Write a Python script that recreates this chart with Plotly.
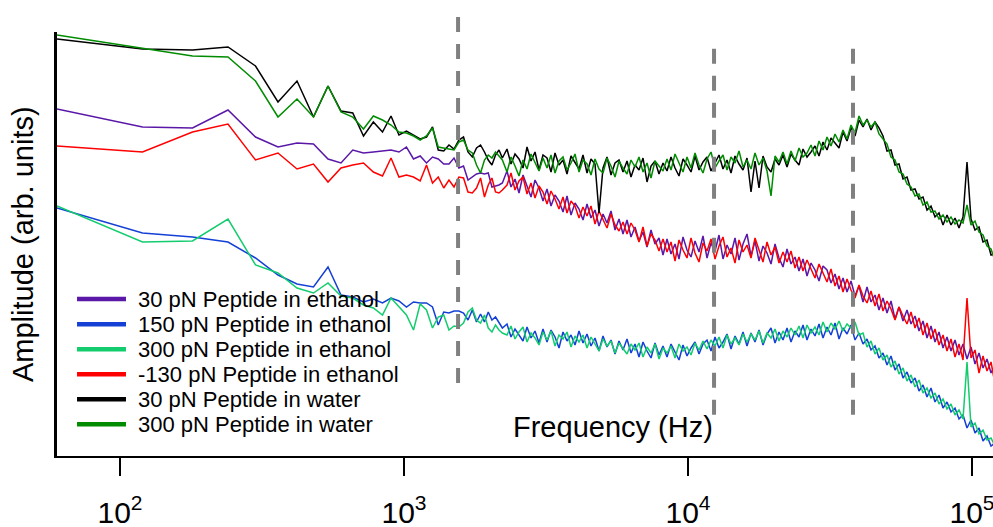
import numpy as np
import plotly.graph_objects as go

# ---------------------------------------------------------------- data
# Low-frequency FFT bins (60 Hz spacing), resolved point by point
FREQ_LO = [60, 120, 180, 240, 300, 360, 420, 480, 540, 600, 660, 720, 780, 840,
           900, 960, 1020, 1080, 1140, 1200, 1260, 1320, 1380, 1440, 1500, 1560,
           1620, 1680, 1740, 1800, 1860, 1920, 1980, 2040, 2100, 2160, 2220]
# Higher band sampled on a logarithmic grid
FREQ_HI = np.geomspace(2305, 120500, 123)

ETH30_LO = [3.47, 3.29, 3.28, 3.46, 3.19, 3.09, 3.13, 3.12, 2.97, 2.93, 3.06, 3.03, 3.04,
            3.05, 3.06, 3.04, 3.09, 2.97, 3.00, 2.93, 2.99, 2.97, 2.92, 2.92, 2.98, 2.88,
            2.90, 2.76, 2.79, 2.82, 2.83, 2.82, 2.83, 2.69, 2.70, 2.71, 2.73]
ETH30_HI = [2.85, 2.69, 2.77, 2.63, 2.81, 2.70, 2.59, 2.76, 2.68, 2.55,
            2.67, 2.50, 2.61, 2.55, 2.44, 2.60, 2.41, 2.53, 2.47, 2.36,
            2.52, 2.38, 2.46, 2.30, 2.42, 2.33, 2.45, 2.26, 2.37, 2.22,
            2.36, 2.19, 2.29, 2.15, 2.24, 2.09, 2.26, 2.12, 2.18, 2.01,
            2.17, 2.02, 2.12, 1.97, 2.19, 2.06, 1.99, 2.15, 2.04, 2.20,
            1.98, 2.13, 2.05, 2.21, 1.97, 2.11, 2.02, 2.18, 1.96, 2.12,
            2.22, 2.00, 2.15, 1.95, 2.10, 2.03, 1.92, 2.12, 1.98, 1.89,
            2.07, 1.92, 1.99, 1.85, 1.97, 1.80, 1.93, 1.86, 1.75, 1.90,
            1.86, 1.73, 1.82, 1.67, 1.78, 1.64, 1.75, 1.60, 1.70, 1.54,
            1.69, 1.54, 1.61, 1.46, 1.58, 1.43, 1.55, 1.37, 1.49, 1.35,
            1.46, 1.32, 1.40, 1.25, 1.35, 1.18, 1.30, 1.14, 1.24, 1.08,
            1.19, 1.05, 1.16, 1.01, 1.12, 0.97, 1.09, 0.92, 1.03, 0.88,
            0.97, 0.83, 0.91]

ETH150_LO = [2.48, 2.23, 2.19, 2.14, 1.98, 1.81, 1.72, 1.69, 1.89, 1.61, 1.59, 1.54, 1.57,
             1.53, 1.58, 1.55, 1.49, 1.54, 1.53, 1.53, 1.49, 1.31, 1.44, 1.43, 1.45, 1.45,
             1.43, 1.36, 1.46, 1.34, 1.42, 1.34, 1.44, 1.36, 1.39, 1.33, 1.28]
ETH150_HI = [1.32, 1.19, 1.27, 1.21, 1.15, 1.29, 1.18, 1.25, 1.13, 1.27,
             1.14, 1.26, 1.19, 1.08, 1.24, 1.15, 1.21, 1.11, 1.25, 1.13,
             1.22, 1.10, 1.18, 1.05, 1.20, 1.09, 1.16, 1.02, 1.15, 1.06,
             1.17, 1.03, 1.12, 0.99, 1.14, 1.05, 0.98, 1.13, 1.01, 1.10,
             0.99, 1.12, 1.04, 0.96, 1.11, 1.00, 1.08, 1.14, 1.02, 1.12,
             1.16, 1.05, 1.19, 1.08, 1.14, 1.22, 1.07, 1.20, 1.12, 1.24,
             1.10, 1.23, 1.14, 1.26, 1.11, 1.22, 1.28, 1.13, 1.24, 1.16,
             1.28, 1.14, 1.25, 1.19, 1.31, 1.16, 1.27, 1.20, 1.32, 1.18,
             1.29, 1.21, 1.33, 1.17, 1.28, 1.22, 1.31, 1.16, 1.23, 1.12,
             1.17, 1.06, 1.10, 0.98, 1.03, 0.91, 1.00, 0.86, 0.92, 0.78,
             0.84, 0.73, 0.78, 0.65, 0.71, 0.59, 0.68, 0.54, 0.61, 0.48,
             0.54, 0.44, 0.48, 0.37, 0.41, 0.28, 0.36, 0.23, 0.28, 0.15,
             0.20, 0.10, 0.13]

ETH300_LO = [2.50, 2.14, 2.15, 2.37, 1.91, 1.83, 1.68, 1.63, 1.73, 1.60, 1.58, 1.51, 1.48,
             1.41, 1.58, 1.49, 1.41, 1.26, 1.52, 1.46, 1.28, 1.39, 1.41, 1.26, 1.30, 1.29,
             1.33, 1.44, 1.48, 1.36, 1.33, 1.41, 1.28, 1.24, 1.31, 1.26, 1.23]
ETH300_HI = [1.21, 1.30, 1.17, 1.24, 1.29, 1.14, 1.23, 1.18, 1.11, 1.24,
             1.16, 1.25, 1.10, 1.21, 1.17, 1.24, 1.09, 1.20, 1.14, 1.21,
             1.08, 1.19, 1.12, 1.05, 1.17, 1.10, 1.15, 1.03, 1.13, 1.08,
             1.02, 1.12, 1.06, 1.13, 0.99, 1.09, 1.03, 1.12, 0.97, 1.08,
             1.03, 1.10, 0.98, 1.12, 1.05, 1.09, 1.01, 1.13, 1.06, 1.15,
             1.07, 1.16, 1.10, 1.19, 1.08, 1.21, 1.12, 1.18, 1.11, 1.22,
             1.14, 1.22, 1.16, 1.25, 1.13, 1.23, 1.18, 1.27, 1.15, 1.25,
             1.19, 1.28, 1.21, 1.30, 1.18, 1.31, 1.23, 1.29, 1.21, 1.34,
             1.24, 1.33, 1.27, 1.35, 1.25, 1.32, 1.28, 1.34, 1.21, 1.23,
             1.09, 1.15, 1.02, 1.08, 0.96, 1.01, 0.89, 0.95, 0.82, 0.88,
             0.75, 0.81, 0.69, 0.76, 0.63, 0.68, 0.58, 0.63, 0.52, 0.57,
             0.47, 0.52, 0.41, 0.46, 0.37, 0.94, 0.29, 0.33, 0.22, 0.26,
             0.16, 0.18, 0.10]

ETHM130_LO = [3.10, 3.04, 3.24, 3.32, 2.96, 3.03, 2.87, 2.92, 2.74, 2.88, 2.91, 2.93, 2.84,
              2.80, 2.98, 2.79, 2.81, 2.79, 2.75, 2.91, 2.73, 2.79, 2.68, 2.76, 2.69, 2.79,
              2.78, 2.64, 2.63, 2.68, 2.78, 2.59, 2.71, 2.78, 2.64, 2.63, 2.66]
ETHM130_HI = [2.71, 2.83, 2.66, 2.75, 2.79, 2.62, 2.73, 2.58, 2.70, 2.64,
              2.52, 2.65, 2.57, 2.47, 2.59, 2.43, 2.55, 2.50, 2.38, 2.49,
              2.40, 2.50, 2.32, 2.45, 2.36, 2.28, 2.42, 2.31, 2.25, 2.34,
              2.22, 2.33, 2.26, 2.14, 2.29, 2.10, 2.22, 2.16, 2.05, 2.17,
              2.04, 2.14, 1.95, 2.16, 2.06, 1.98, 2.18, 2.03, 1.94, 2.13,
              2.05, 2.17, 1.97, 2.10, 2.19, 1.99, 2.08, 1.93, 2.16, 2.04,
              2.11, 1.98, 2.18, 2.06, 1.94, 2.14, 2.01, 2.09, 1.93, 2.04,
              1.94, 2.05, 1.88, 1.99, 1.85, 1.96, 1.87, 1.78, 1.92, 1.82,
              1.74, 1.87, 1.70, 1.80, 1.64, 1.77, 1.66, 1.58, 1.71, 1.60,
              1.53, 1.65, 1.50, 1.62, 1.45, 1.55, 1.47, 1.36, 1.49, 1.40,
              1.32, 1.44, 1.28, 1.38, 1.21, 1.33, 1.17, 1.27, 1.11, 1.21,
              1.05, 1.17, 0.99, 1.12, 0.96, 1.58, 0.98, 1.06, 0.83, 1.00,
              0.85, 0.94, 0.72]

WAT30_LO = [4.17, 4.07, 4.06, 4.09, 3.90, 3.54, 3.75, 3.39, 3.70, 3.45, 3.43, 3.20, 3.34,
            3.24, 3.40, 3.21, 3.25, 3.21, 3.17, 3.19, 3.29, 3.06, 3.05, 3.11, 3.07, 3.16,
            3.19, 3.04, 2.99, 3.08, 3.11, 3.04, 2.96, 2.91, 3.01, 3.06, 2.98]
WAT30_HI = [3.07, 2.92, 3.02, 2.97, 2.88, 3.09, 2.95, 3.04, 2.86, 3.01,
            2.98, 2.84, 3.03, 2.91, 2.96, 2.82, 3.00, 2.94, 2.87, 3.01,
            2.83, 2.97, 2.92, 2.43, 2.88, 2.99, 2.81, 2.93, 2.96, 2.84,
            2.95, 2.79, 2.91, 2.86, 2.98, 2.74, 2.90, 2.95, 2.82, 2.93,
            2.85, 2.99, 2.88, 2.80, 2.97, 2.91, 2.84, 3.00, 2.86, 2.94,
            2.99, 2.85, 2.93, 3.01, 2.87, 2.96, 2.83, 3.00, 2.92, 2.86,
            2.98, 2.64, 2.95, 2.68, 3.00, 2.89, 2.84, 2.97, 2.91, 3.01,
            2.89, 3.02, 2.96, 2.91, 3.07, 2.99, 3.04, 3.10, 3.00, 3.14,
            3.06, 3.18, 3.13, 3.08, 3.24, 3.15, 3.28, 3.20, 3.36, 3.29,
            3.37, 3.26, 3.34, 3.28, 3.20, 3.05, 3.06, 2.91, 2.92, 2.77,
            2.79, 2.66, 2.67, 2.57, 2.59, 2.46, 2.50, 2.39, 2.43, 2.31,
            2.41, 2.31, 2.38, 2.28, 2.39, 2.94, 2.37, 2.26, 2.29, 2.14,
            2.16, 2.01, 2.02]

WAT300_LO = [4.21, 4.08, 4.00, 3.99, 3.75, 3.39, 3.57, 3.39, 3.70, 3.44, 3.39, 3.27, 3.40,
             3.36, 3.31, 3.24, 3.23, 3.20, 3.16, 3.20, 3.28, 3.09, 3.08, 3.07, 3.06, 3.14,
             3.16, 3.06, 3.03, 2.91, 2.83, 2.96, 3.01, 2.98, 3.04, 3.00, 2.96]
WAT300_HI = [2.84, 2.99, 2.90, 2.80, 2.96, 2.87, 3.02, 2.93, 2.85, 2.98,
             2.88, 3.01, 2.83, 2.95, 2.99, 2.86, 2.93, 3.02, 2.84, 2.96,
             2.92, 2.81, 2.97, 2.87, 2.83, 2.98, 2.90, 2.79, 2.95, 2.88,
             2.82, 2.96, 2.89, 2.99, 2.84, 2.93, 2.78, 2.95, 2.90, 2.85,
             2.97, 2.86, 3.02, 2.92, 2.84, 2.99, 2.88, 3.03, 2.91, 2.83,
             2.97, 3.04, 2.88, 2.95, 3.01, 2.86, 2.99, 2.93, 3.05, 2.89,
             2.96, 2.87, 3.03, 2.91, 2.98, 2.85, 2.60, 3.00, 2.94, 3.04,
             2.92, 3.05, 2.95, 3.08, 2.99, 3.03, 3.11, 3.00, 3.15, 3.06,
             3.19, 3.10, 3.22, 3.14, 3.26, 3.17, 3.31, 3.23, 3.40, 3.31,
             3.36, 3.29, 3.34, 3.22, 3.17, 3.12, 2.99, 2.96, 2.84, 2.82,
             2.72, 2.69, 2.60, 2.62, 2.51, 2.54, 2.44, 2.45, 2.37, 2.41,
             2.34, 2.39, 2.32, 2.36, 2.33, 2.51, 2.31, 2.35, 2.24, 2.21,
             2.10, 2.07, 1.95]

SERIES = [
    ("30 pN Peptide in ethanol", ETH30_LO, ETH30_HI, "#5a17a8"),
    ("150 pN Peptide in ethanol", ETH150_LO, ETH150_HI, "#1440d6"),
    ("300 pN Peptide in ethanol", ETH300_LO, ETH300_HI, "#12cc6e"),
    ("-130 pN Peptide in ethanol", ETHM130_LO, ETHM130_HI, "#ff0000"),
    ("30 pN Peptide in water", WAT30_LO, WAT30_HI, "#000000"),
    ("300 pN Peptide in water", WAT300_LO, WAT300_HI, "#008c00"),
]

# Resonance markers (Hz)
MARKER_FREQS = [1550, 12350, 38100]
MARKER_SPANS = [(0.172, 1.045), (0.097, 0.969), (0.097, 0.969)]

TICK_VALS = [1e2, 1e3, 1e4, 1e5]
TICK_TEXT = ["10<sup>2</sup>", "10<sup>3</sup>", "10<sup>4</sup>", "10<sup>5</sup>"]

FONT = "Liberation Sans, Arial, sans-serif"

# ---------------------------------------------------------------- figure
fig = go.Figure()
freq_all = list(FREQ_LO) + list(FREQ_HI)
for name, lo, hi, color in SERIES:
    fig.add_trace(go.Scatter(
        x=freq_all, y=list(lo) + list(hi), mode="lines", name=name,
        line=dict(color=color, width=1.5), showlegend=False,
    ))

shapes = []
for f, (y0, y1) in zip(MARKER_FREQS, MARKER_SPANS):
    shapes.append(dict(type="line", xref="x", yref="paper", x0=f, x1=f, y0=y0, y1=y1,
                       line=dict(color="#808080", width=4, dash="15px,12px"),
                       layer="above"))

# Hand-placed legend block (swatch + label per series)
annotations = []
row_y = [0.370, 0.311, 0.252, 0.193, 0.134, 0.075]
for (name, _, _, color), yy in zip(SERIES, row_y):
    shapes.append(dict(type="line", xref="paper", yref="paper", x0=0.0214, x1=0.0737,
                       y0=yy, y1=yy, line=dict(color=color, width=4.5)))
    annotations.append(dict(xref="paper", yref="paper", x=0.0844, y=yy, text=name,
                            showarrow=False, xanchor="left", yanchor="middle",
                            font=dict(family=FONT, size=22, color="black")))

annotations.append(dict(xref="paper", yref="paper", x=-0.0363, y=0.5,
                        text="Amplitude (arb. units)", textangle=-90, showarrow=False,
                        xanchor="center", yanchor="middle",
                        font=dict(family=FONT, size=29, color="black")))
annotations.append(dict(xref="x", yref="paper", x=np.log10(5445), y=0.068,
                        text="Frequency (Hz)", showarrow=False,
                        xanchor="center", yanchor="middle",
                        font=dict(family=FONT, size=29, color="black")))

fig.update_layout(
    width=993, height=527,
    margin=dict(l=57, r=0, t=32, b=71),
    paper_bgcolor="white", plot_bgcolor="white",
    font=dict(family=FONT, color="black"),
    shapes=shapes, annotations=annotations,
    showlegend=False,
    xaxis=dict(type="log", range=[np.log10(60), 5.0739], automargin=False,
               showline=True, linecolor="black", linewidth=2,
               ticks="outside", ticklen=18, tickwidth=2, tickcolor="black",
               tickvals=TICK_VALS, ticktext=TICK_TEXT,
               tickfont=dict(family=FONT, size=30, color="black"),
               ticklabelstandoff=11, ticklabeloverflow="allow",
               showgrid=False, zeroline=False),
    yaxis=dict(range=[0, 4.24], automargin=False,
               showline=True, linecolor="black", linewidth=2.5,
               ticks="", showticklabels=False, showgrid=False, zeroline=False),
)

fig.write_html("out.html")
